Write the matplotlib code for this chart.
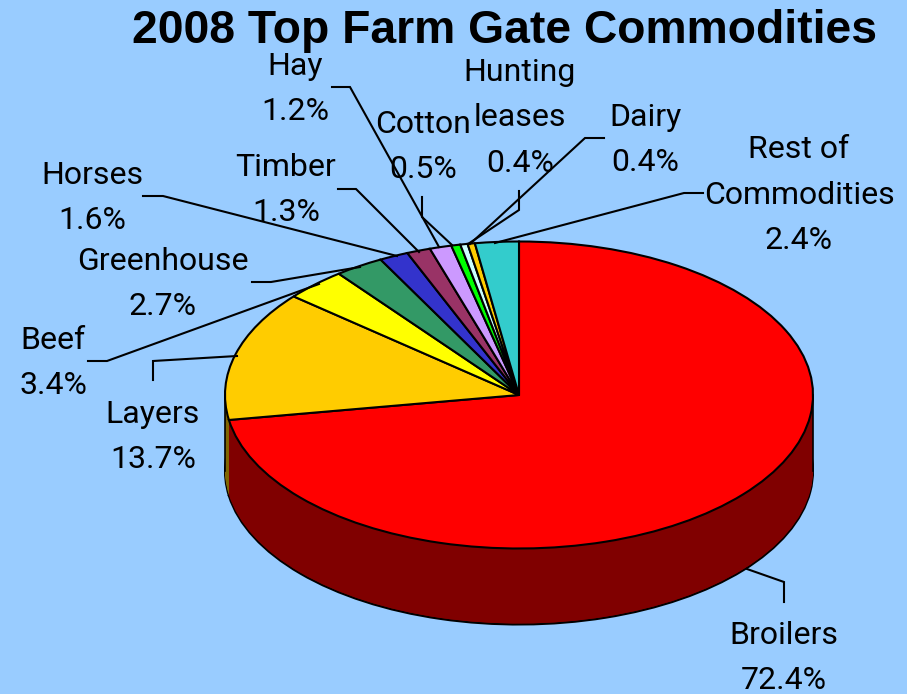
import matplotlib
matplotlib.use("Agg")
import matplotlib.pyplot as plt

# valores do grafico
categories = ["Broilers", "Layers", "Beef", "Greenhouse", "Horses", "Timber",
              "Hay", "Cotton", "Hunting\nleases", "Dairy", "Rest of\nCommodities"]
shares = [72.4, 13.7, 3.4, 2.7, 1.6, 1.3, 1.2, 0.5, 0.4, 0.4, 2.4]

top_colors = ["#ff0000", "#ffcc00", "#ffff00", "#339966", "#3333cc", "#993366",
              "#cc99ff", "#00ff00", "#ccffff", "#ffcc00", "#33cccc"]
side_colors = ["#800000", "#806600", "#808000", "#1a4d33", "#1a1a66", "#4d1a33",
               "#664d80", "#008000", "#668080", "#806600", "#1a6666"]

# centro do rotulo em pixels
label_pos = [(784, 658), (153, 437), (53, 363), (163, 284), (92, 198), (286, 190),
             (295, 89), (423, 147), (520, 118), (645, 140), (799, 195)]

# linhas de chamada em pixels
leaders = [
    [(784, 602), (784, 582), (747, 569)],
    [(153, 380), (153, 361), (237, 356)],
    [(88, 361), (107, 361), (319, 284)],
    [(252, 282), (271, 282), (360, 267)],
    [(143, 196), (163, 196), (397, 256)],
    [(338, 189), (356, 189), (419, 252)],
    [(332, 87), (350, 87), (439, 247)],
    [(422, 197), (422, 217), (452, 245)],
    [(519, 191), (519, 210), (468, 244)],
    [(604, 138), (585, 138), (470, 244)],
    [(703, 193), (684, 193), (495, 243)],
]

W, H = 907, 694
CX, CY, RX, RY = 519, 395, 294, 153.5
DEPTH = 76
BG = "#99ccff"


def to_data(x, y):
    return (x - CX) / RX, (CY - y) / RY


fig = plt.figure(figsize=(W / 100, H / 100), dpi=100, facecolor=BG)
ax = fig.add_axes([0, 0, 1, 1])

pie_args = dict(startangle=90, counterclock=False, radius=1)

# lateral do disco: de baixo para cima
ax.pie(shares, colors=side_colors, center=(0, -DEPTH / RY),
       wedgeprops=dict(edgecolor="black", linewidth=1.5), **pie_args)
for d in range(DEPTH - 1, 0, -1):
    ax.pie(shares, colors=side_colors, center=(0, -d / RY),
           wedgeprops=dict(linewidth=0), **pie_args)

# bordas verticais
for x_edge in (-1, 1):
    ax.plot([x_edge, x_edge], [0, -DEPTH / RY], color="black", lw=1.2, zorder=3)

# tampo
wedges, _ = ax.pie(shares, colors=top_colors,
                   wedgeprops=dict(edgecolor="black", linewidth=1.5), **pie_args)
for w in wedges:
    w.set_zorder(4)

for pts in leaders:
    xs, ys = zip(*[to_data(*p) for p in pts])
    ax.plot(xs, ys, color="black", lw=1.5, zorder=5, solid_joinstyle="miter")

for name, value, (lx, ly) in zip(categories, shares, label_pos):
    tx, ty = to_data(lx, ly)
    ax.text(tx, ty, f"{name}\n{value}%", ha="center", va="center", fontsize=23,
            family="Roboto", linespacing=1.72, zorder=6)

ax.set_aspect("auto")
ax.set_xlim(to_data(0, 0)[0], to_data(W, 0)[0])
ax.set_ylim(to_data(0, H)[1], to_data(0, 0)[1])
ax.axis("off")

fig.text(504 / W, 1 - 31 / H, "2008 Top Farm Gate Commodities", ha="center", va="center",
         fontsize=33.3, fontweight="bold", family="Liberation Sans")

fig.savefig("out.png", dpi=100, facecolor=BG)
